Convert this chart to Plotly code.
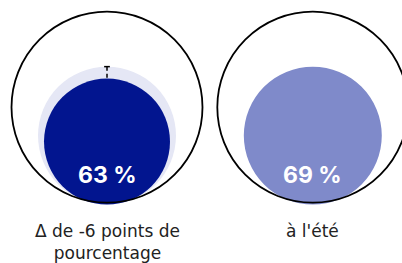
import plotly.graph_objects as go

# ---- data ----
categories = ["actuel", "été"]
labels = ["Δ de -6 points de<br>pourcentage", "à l'été"]
main_values = [63, 69]          # % shown in each panel
ghost_values = [69, None]       # comparison (summer) value drawn behind, left panel
value_texts = ["63 %", "69 %"]

# ---- style ----
NAVY = "#02158F"
GHOST = "#E5E7F5"
MEDIUM = "#7F8ACA"
fill_colors = [NAVY, MEDIUM]
FONT_NUM = "Inter"
FONT_LBL = "DejaVu Sans"

spacing = 2.155        # distance between panel centres (outer-radius units)
k = 1.047              # value circle radius per 100 %
base = -0.02           # bottom of value circles

fig = go.Figure()
shapes = []
annotations = []

for i, cat in enumerate(categories):
    cx = i * spacing
    gv = ghost_values[i]
    if gv is not None:
        rg = gv / 100 * k
        shapes.append(dict(type="circle", xref="x", yref="y",
                           x0=cx - rg, x1=cx + rg, y0=base, y1=base + 2 * rg,
                           fillcolor=GHOST, line=dict(width=0), layer="below"))
    rv = main_values[i] / 100 * k
    shapes.append(dict(type="circle", xref="x", yref="y",
                       x0=cx - rv, x1=cx + rv, y0=base, y1=base + 2 * rv,
                       fillcolor=fill_colors[i], line=dict(width=0), layer="below"))
    shapes.append(dict(type="circle", xref="x", yref="y",
                       x0=cx - 1, x1=cx + 1, y0=0, y1=2,
                       fillcolor="rgba(0,0,0,0)", line=dict(color="black", width=1.8),
                       layer="above"))
    annotations.append(dict(x=cx, y=0.29, xref="x", yref="y", text=value_texts[i],
                            showarrow=False, xanchor="center", yanchor="middle",
                            font=dict(family=FONT_NUM, size=23, color="white", weight="bold")))
    annotations.append(dict(x=cx, y=-0.175, xref="x", yref="y", text=labels[i],
                            showarrow=False, xanchor="center", yanchor="top",
                            font=dict(family=FONT_LBL, size=17, color="#222222")))

    if gv is not None:
        top = base + 2 * gv / 100 * k
        bot = base + 2 * main_values[i] / 100 * k
        fig.add_trace(go.Scatter(x=[cx, cx], y=[top, bot], mode="lines",
                                 line=dict(color="black", width=1.5, dash="4px,3px"),
                                 hoverinfo="skip", showlegend=False))
        fig.add_trace(go.Scatter(x=[cx - 0.03, cx + 0.03], y=[top, top], mode="lines",
                                 line=dict(color="black", width=1.5),
                                 hoverinfo="skip", showlegend=False))

fig.update_layout(
    width=402, height=263,
    margin=dict(l=0, r=0, t=0, b=0),
    paper_bgcolor="white", plot_bgcolor="white",
    shapes=shapes, annotations=annotations,
    xaxis=dict(range=[-1.1204, 3.0890], visible=False, fixedrange=True),
    yaxis=dict(range=[-0.6314, 2.1225], visible=False, fixedrange=True),
    showlegend=False,
)

fig.write_html("out.html", config={"displayModeBar": False},
               post_script="document.body.style.margin='0';document.body.style.overflow='hidden';")
